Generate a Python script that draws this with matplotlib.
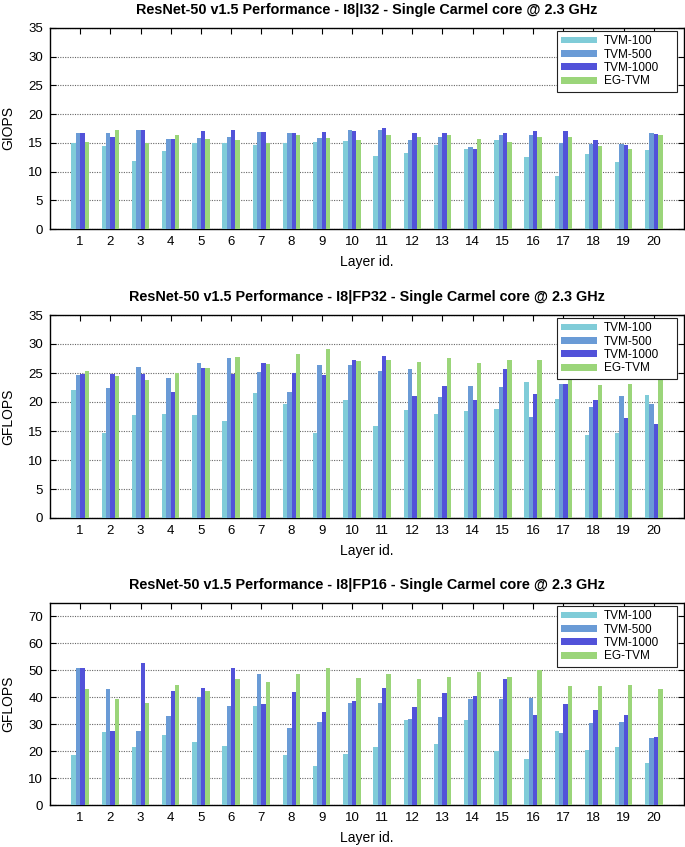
import numpy as np
import matplotlib
matplotlib.use("Agg")
import matplotlib.pyplot as plt

plt.rcParams['font.family'] = ['Liberation Sans', 'DejaVu Sans']

layers = list(range(1, 21))
series_names = ["TVM-100", "TVM-500", "TVM-1000", "EG-TVM"]
colors = ["#80ccd8", "#6a9bd6", "#5252d9", "#9bd57a"]

# I8|I32 (GIOPS)
i32_tvm100 = [15.0, 14.5, 11.8, 13.6, 15.0, 15.0, 14.7, 15.0, 15.1, 15.4,
              12.7, 13.2, 14.7, 14.0, 15.5, 12.5, 9.3, 13.1, 11.7, 13.8]
i32_tvm500 = [16.8, 16.7, 17.3, 15.7, 15.8, 16.1, 16.9, 16.8, 15.8, 17.3,
              17.2, 15.5, 16.0, 14.2, 16.4, 16.4, 15.0, 14.8, 14.8, 16.8]
i32_tvm1000 = [16.8, 16.0, 17.3, 15.7, 17.0, 17.3, 16.9, 16.8, 16.9, 17.1,
               17.5, 16.8, 16.7, 14.0, 16.8, 17.1, 17.1, 15.5, 14.6, 16.6]
i32_eg = [15.2, 17.2, 14.9, 16.3, 15.7, 15.5, 15.0, 16.4, 15.8, 15.5,
          16.3, 16.1, 16.4, 15.6, 15.1, 16.0, 16.0, 14.5, 14.0, 16.3]

# I8|FP32 (GFLOPS)
fp32_tvm100 = [22.0, 14.6, 17.8, 17.9, 17.7, 16.7, 21.5, 19.7, 14.6, 20.4,
               15.9, 18.6, 18.0, 18.5, 18.8, 23.5, 20.6, 14.3, 14.7, 21.2]
fp32_tvm500 = [24.6, 22.4, 26.1, 24.2, 26.7, 27.6, 25.2, 21.8, 26.4, 26.4,
               25.4, 25.7, 20.8, 22.7, 22.6, 17.5, 23.1, 19.1, 21.0, 19.6]
fp32_tvm1000 = [24.9, 24.9, 24.9, 21.8, 25.9, 24.9, 26.8, 25.0, 24.6, 27.2,
                28.0, 21.0, 22.7, 20.3, 25.7, 21.3, 23.1, 20.3, 17.2, 16.2]
fp32_eg = [25.3, 24.4, 23.8, 25.0, 25.9, 27.8, 26.5, 28.3, 29.1, 27.1,
           27.2, 26.9, 27.6, 26.7, 27.2, 27.3, 26.1, 23.0, 23.1, 25.3]

# I8|FP16 (GFLOPS)
fp16_tvm100 = [18.6, 27.1, 21.6, 26.1, 23.3, 21.8, 36.6, 18.7, 14.3, 19.1,
               21.4, 31.7, 22.8, 31.4, 20.0, 16.9, 27.6, 20.3, 21.4, 15.7]
fp16_tvm500 = [50.9, 43.2, 27.6, 33.1, 40.1, 36.8, 48.8, 28.6, 30.9, 38.0,
               37.7, 32.1, 32.5, 39.2, 39.2, 39.8, 26.9, 30.5, 30.9, 24.7]
fp16_tvm1000 = [50.7, 27.6, 52.7, 42.5, 43.6, 50.7, 37.5, 41.8, 34.7, 38.7,
                43.6, 36.3, 41.5, 40.5, 46.8, 33.5, 37.4, 35.2, 33.3, 25.4]
fp16_eg = [42.9, 39.5, 38.0, 44.4, 42.5, 46.6, 45.5, 48.5, 50.7, 47.3,
           48.8, 46.6, 47.6, 49.2, 47.5, 50.1, 44.1, 44.0, 44.4, 43.0]

panels = [
    ("ResNet-50 v1.5 Performance - I8|I32 - Single Carmel core @ 2.3 GHz", "GIOPS",
     [i32_tvm100, i32_tvm500, i32_tvm1000, i32_eg], 35, 5),
    ("ResNet-50 v1.5 Performance - I8|FP32 - Single Carmel core @ 2.3 GHz", "GFLOPS",
     [fp32_tvm100, fp32_tvm500, fp32_tvm1000, fp32_eg], 35, 5),
    ("ResNet-50 v1.5 Performance - I8|FP16 - Single Carmel core @ 2.3 GHz", "GFLOPS",
     [fp16_tvm100, fp16_tvm500, fp16_tvm1000, fp16_eg], 75, 10),
]

W, H = 685, 847
fig = plt.figure(figsize=(W / 100, H / 100), dpi=100)

# axes boxes in pixels: (left, top, right, bottom)
boxes = [(50, 28, 684, 229), (50, 315, 684, 518), (50, 603, 684, 805)]

x = np.array(layers, dtype=float)
bw = 0.144
offsets = (np.arange(4) - 1.5) * bw

for (title, ylabel, data, ymax, ystep), (l, t, r, b) in zip(panels, boxes):
    aw, ah = r - l, b - t
    ax = fig.add_axes([l / W, 1 - b / H, aw / W, ah / H])
    for k in range(4):
        ax.bar(x + offsets[k], data[k], width=bw, color=colors[k],
               edgecolor="none", label=series_names[k], zorder=3)
    ax.set_xlim(0, 21)
    ax.set_ylim(0, ymax)
    ax.set_xticks(layers)
    ax.set_yticks(np.arange(0, min(ymax, 70) + 1, ystep))
    ax.tick_params(direction="in", top=True, right=True, length=4,
                   width=0.8, labelsize=9.5, pad=5)
    ax.yaxis.grid(True, color="#666666", linestyle=(0, (1, 1.2)), linewidth=0.8, zorder=0)
    for s in ax.spines.values():
        s.set_linewidth(1.0)
    ax.set_title(title, fontsize=10.4, fontweight="bold", pad=10)
    ax.set_ylabel(ylabel, fontsize=10, labelpad=9)
    ax.set_xlabel("Layer id.", fontsize=10, labelpad=5)
    x0 = (557 - l) / aw
    x1 = (677 - l) / aw
    ytop = 1 - 3 / ah
    leg = ax.legend(loc="upper left", bbox_to_anchor=(x0, ytop - 0.3, x1 - x0, 0.3),
                    mode="expand", borderaxespad=0, fontsize=8.5, handlelength=3.0,
                    handleheight=0.5, handletextpad=0.6, labelspacing=0.12,
                    borderpad=0.35, fancybox=False, framealpha=1, edgecolor="#222222")
    leg.get_frame().set_linewidth(0.8)
    leg.set_zorder(5)

fig.savefig("out.png", dpi=100)
